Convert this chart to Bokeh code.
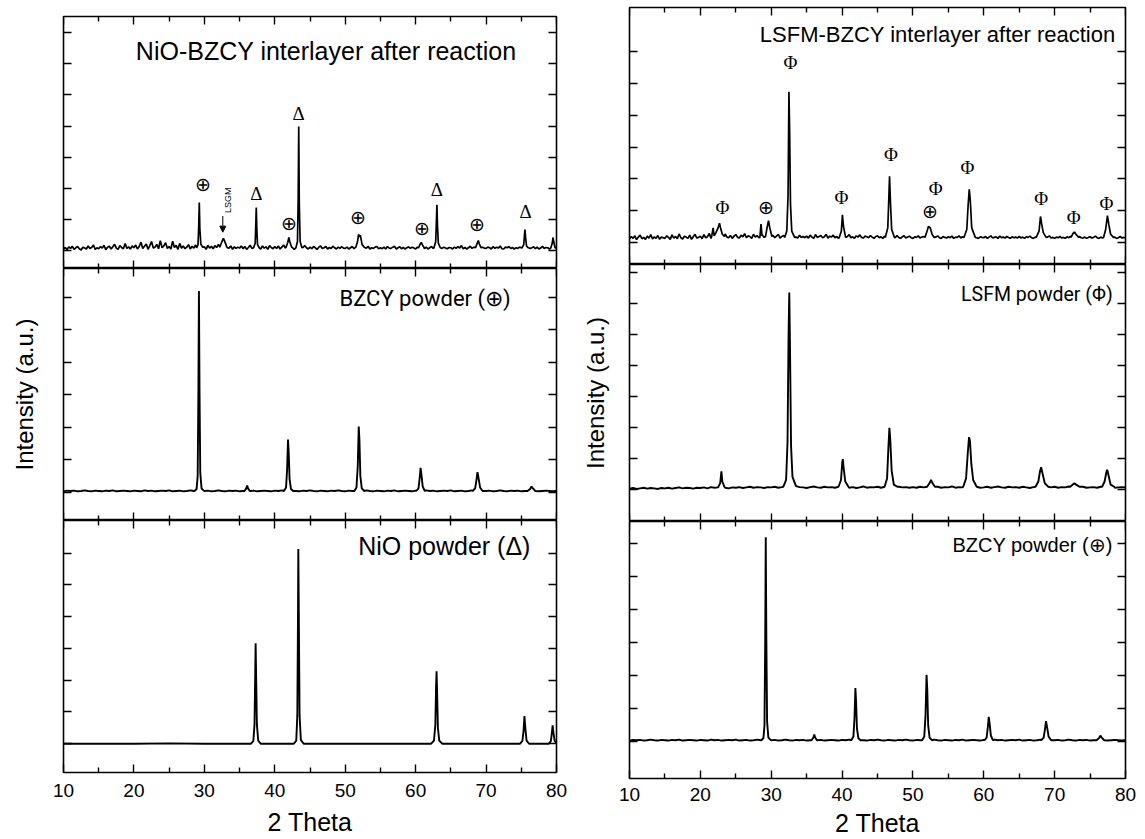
import numpy as np
from bokeh.plotting import figure
from bokeh.models import (Range1d, LinearAxis, FixedTicker, Label, Arrow, NormalHead,
                          CustomJSTickFormatter, ColumnDataSource)
from bokeh.layouts import row, column
from bokeh.embed import file_html
from bokeh.resources import INLINE
from bokeh.core.properties import value

# ---------------- data ----------------
X_MIN, X_MAX = 10, 80
X_MAJOR = [10, 20, 30, 40, 50, 60, 70, 80]
X_MINOR = [15, 25, 35, 45, 55, 65, 75]

# baseline noise (hundredths of a tick step), evenly spaced from 10 to 80 deg
noise_L1 = [6,11,4,13,8,15,5,10,14,7,3,12,9,6,16,8,11,19,5,10,
            7,14,9,18,4,12,15,6,13,21,9,5,17,11,7,24,8,13,6,16,
            10,19,6,14,28,8,15,22,5,17,30,9,12,21,7,33,10,16,26,8,
            14,6,31,11,18,5,24,9,16,7,12,20,6,15,9,19,8,13,16,10,
            13,5,18,9,15,7,17,11,21,8,14,6,19,10,9,16,5,13,8,12,
            9,16,7,14,5,11,18,8,15,10,20,12,6,16,9,13,5,17,11,7,
            14,8,16,6,12,19,9,15,6,18,11,5,16,9,13,7,11,17,10,6,
            12,7,14,10,5,12,16,8,10,14,6,11,8,15,10,6,12,8,14,9,
            8,12,6,10,14,7,12,10,6,13,8,11,9,15,6,10,8,12,14,7,
            10,7,12,6,14,9,8,12,15,6,10,13,7,11,6,10,13,8,12,9,
            6,12,8,14,9,7,12,6,10,14,8,11,10,6,13,8,12,9,7,11,
            10,6,12,8,14,9,17,7,11,6,10,15,8,12,9,14,7,6,12,9,
            8,12,10,6,14,8,12,9,16,7,6,12,10,14,8,11,6,10,8,12,
            10,7,14,6,12,8,10,13,7,12,6,9,15,8,11,10,6,13,9,12,
            10]
noise_R1 = [10,18,12,20,8,16,22,11,15,9,19,13,24,10,17,12,21,9,16,14,
            12,20,15,9,23,13,18,11,26,14,10,19,16,12,22,9,17,25,13,15,
            19,11,24,14,17,28,12,20,15,31,13,18,22,10,26,16,14,21,12,19,
            24,15,13,22,17,27,14,20,18,12,25,16,21,14,19,23,15,17,13,20,
            16,22,14,19,25,13,18,21,15,12,24,17,14,20,16,13,22,15,18,14,
            19,13,22,16,12,24,15,18,21,14,17,25,13,19,16,22,14,18,12,20,
            15,21,13,18,24,14,17,12,20,16,23,15,13,19,17,14,21,16,12,18,
            20,14,17,12,19,15,22,13,16,18,14,21,15,12,17,20,13,16,19,14,
            12,17,15,20,13,16,18,14,12,19,15,17,13,16,20,14,12,18,15,13,
            17,14,19,12,16,15,20,13,17,14,12,18,15,13,16,19,14,12,17,15,
            14,18,12,16,20,13,15,17,12,19,14,16,13,18,15,12,17,14,16,13,
            18,13,16,12,17,15,19,14,12,16,18,13,15,12,17,14,16,20,13,15,
            12,16,14,18,13,15,12,17,14,19,13,16,15,12,18,14,13,16,12,15,
            17,13,15,19,14,12,16,13,18,14,12,15,17,13,16,12,14,18,13,15,
            14]
noise_BZCY = [3,5,4,5,3,4,6,4,3,5,4,3,5,4,6,3,4,5,4,3,
              5,4,3,6,4,5,3,4,5,4,6,3,4,5,3,4,6,4,5,3,
              4,5,3,4,6,4,3,5,4,5,3,4,6,4,5,3,4,5,4,3,
              5,4,6,3,4,5,4,3,5,4,6,4,3,5,4,3,5,4,6,4,
              3,5,4,5,3,4,6,4,3,5,4,3,5,4,6,3,4,5,4,3,
              5,4,3,6,4,5,3,4,5,4,6,3,4,5,3,4,6,4,5,3,
              4,5,3,4,6,4,3,5,4,5,3,4,6,4,5,3,4,5,4,3,
              4]
noise_LSFM = [2,4,1,3,5,2,4,3,1,4,3,5,2,4,6,3,5,4,2,5,
              4,6,3,7,5,4,8,5,3,6,5,7,4,6,8,5,7,6,4,7,
              6,8,5,7,9,6,8,5,7,6,4,7,9,6,5,8,6,7,5,8,
              6,8,5,7,4,6,9,5,7,6,8,5,6,9,7,5,8,6,7,5,
              7,5,8,6,4,7,6,8,5,7,6,9,5,7,6,4,8,6,7,5,
              6,8,5,7,9,6,5,8,6,7,5,8,6,4,7,9,6,5,7,6,
              8,5,7,6,9,5,7,6,8,5,6,7,5,8,6,7,9,5,6,7,
              6]
noise_NiO = [0,0,0,1,0,0,0,0,0,0,0,0,0,0,0]

# peak outlines (2theta, intensity in tick steps)
peaks_L1 = [
    [(28.9,0.1),(29.1,0.2),(29.2,0.8),(29.28,1.55),(29.36,0.7),(29.5,0.22),(29.75,0.12)],
    [(32.2,0.12),(32.5,0.3),(32.7,0.4),(32.85,0.33),(33.2,0.12)],
    [(37.0,0.1),(37.22,0.25),(37.3,0.8),(37.37,1.39),(37.45,0.7),(37.55,0.2),(37.8,0.1)],
    [(41.6,0.12),(41.85,0.28),(42.0,0.43),(42.12,0.3),(42.4,0.12)],
    [(43.0,0.1),(43.22,0.3),(43.32,1.6),(43.4,3.99),(43.48,1.5),(43.6,0.3),(43.85,0.1)],
    [(51.5,0.12),(51.75,0.3),(51.9,0.53),(52.0,0.45),(52.15,0.5),(52.4,0.2),(52.7,0.12)],
    [(60.4,0.1),(60.65,0.22),(60.8,0.27),(60.95,0.2),(61.2,0.1)],
    [(62.6,0.1),(62.85,0.3),(62.94,0.9),(63.02,1.48),(63.1,0.8),(63.22,0.25),(63.5,0.1)],
    [(68.5,0.1),(68.75,0.25),(68.9,0.33),(69.05,0.22),(69.3,0.1)],
    [(75.1,0.1),(75.35,0.2),(75.45,0.5),(75.52,0.68),(75.6,0.45),(75.75,0.15),(76.0,0.1)],
    [(79.2,0.1),(79.4,0.25),(79.5,0.43),(79.6,0.3),(79.8,0.1)],
]
peaks_BZCY = [
    [(28.6,0.04),(28.9,0.1),(29.05,0.5),(29.15,3.0),(29.23,6.19),(29.31,3.2),(29.42,0.6),(29.6,0.12),(29.9,0.05)],
    [(35.7,0.04),(35.95,0.12),(36.08,0.21),(36.2,0.12),(36.45,0.04)],
    [(41.3,0.04),(41.6,0.15),(41.75,0.7),(41.88,1.62),(41.98,1.2),(42.1,0.4),(42.3,0.1),(42.6,0.04)],
    [(51.3,0.04),(51.6,0.15),(51.78,0.8),(51.92,2.02),(52.02,1.6),(52.15,0.5),(52.35,0.12),(52.7,0.04)],
    [(60.1,0.04),(60.4,0.12),(60.58,0.45),(60.7,0.75),(60.82,0.55),(61.0,0.18),(61.3,0.04)],
    [(68.1,0.04),(68.45,0.12),(68.65,0.4),(68.78,0.62),(68.92,0.45),(69.15,0.15),(69.5,0.04)],
    [(75.9,0.04),(76.25,0.1),(76.45,0.18),(76.65,0.12),(77.0,0.04)],
]
peaks_NiO = [
    [(36.6,0),(36.95,0.08),(37.12,0.6),(37.22,2.2),(37.28,3.16),(37.36,2.0),(37.46,0.6),(37.65,0.1),(38.0,0)],
    [(42.7,0),(43.05,0.1),(43.2,0.9),(43.28,3.5),(43.34,6.13),(43.42,3.8),(43.52,0.9),(43.7,0.12),(44.1,0)],
    [(62.2,0),(62.6,0.1),(62.8,0.6),(62.9,1.8),(62.97,2.28),(63.05,1.6),(63.16,0.5),(63.35,0.1),(63.8,0)],
    [(74.8,0),(75.15,0.08),(75.32,0.4),(75.45,0.87),(75.57,0.5),(75.75,0.1),(76.1,0)],
    [(78.9,0),(79.2,0.08),(79.35,0.35),(79.45,0.58),(79.56,0.35),(79.75,0.08),(80.0,0.02)],
]
peaks_R1 = [
    [(21.6,0.18),(21.8,0.45),(21.95,0.2),(22.2,0.3),(22.5,0.45),(22.7,0.6),(22.85,0.45),(23.1,0.25),(23.4,0.18)],
    [(28.4,0.15),(28.56,0.57),(28.7,0.2)],
    [(29.2,0.18),(29.45,0.5),(29.62,0.68),(29.8,0.45),(30.1,0.18)],
    [(31.9,0.15),(32.2,0.35),(32.38,1.5),(32.5,4.74),(32.6,3.5),(32.72,1.2),(32.9,0.35),(33.3,0.15)],
    [(39.6,0.15),(39.9,0.35),(40.05,0.86),(40.2,0.5),(40.5,0.15)],
    [(46.1,0.15),(46.45,0.45),(46.6,1.4),(46.7,2.08),(46.82,1.3),(47.0,0.4),(47.4,0.15)],
    [(51.7,0.15),(52.0,0.35),(52.2,0.5),(52.45,0.45),(52.7,0.25),(53.0,0.15)],
    [(57.2,0.15),(57.6,0.4),(57.8,1.2),(57.95,1.67),(58.1,1.3),(58.3,0.45),(58.8,0.15)],
    [(67.4,0.15),(67.8,0.35),(68.0,0.81),(68.15,0.6),(68.4,0.3),(68.8,0.15)],
    [(72.3,0.15),(72.6,0.28),(72.8,0.32),(73.0,0.25),(73.4,0.15)],
    [(76.9,0.15),(77.2,0.4),(77.45,0.84),(77.65,0.55),(77.9,0.25),(78.3,0.15)],
]
peaks_LSFM = [
    [(22.5,0.06),(22.8,0.2),(22.97,0.58),(23.1,0.25),(23.4,0.08)],
    [(31.7,0.08),(32.1,0.3),(32.3,1.5),(32.45,5.0),(32.55,6.35),(32.65,4.6),(32.8,1.4),(33.0,0.4),(33.5,0.1)],
    [(39.5,0.08),(39.85,0.3),(40.02,0.85),(40.1,0.97),(40.22,0.7),(40.45,0.25),(40.9,0.08)],
    [(46.0,0.08),(46.35,0.35),(46.55,1.4),(46.68,1.98),(46.8,1.6),(47.0,0.6),(47.3,0.15),(47.8,0.08)],
    [(52.0,0.08),(52.35,0.2),(52.56,0.3),(52.75,0.2),(53.1,0.08)],
    [(57.1,0.08),(57.5,0.35),(57.75,1.2),(57.92,1.68),(58.05,1.55),(58.25,0.8),(58.5,0.3),(59.0,0.08)],
    [(67.3,0.08),(67.7,0.25),(67.95,0.6),(68.1,0.71),(68.3,0.5),(68.6,0.2),(69.1,0.08)],
    [(72.2,0.08),(72.6,0.16),(72.8,0.19),(73.1,0.14),(73.5,0.08)],
    [(76.7,0.08),(77.05,0.25),(77.3,0.55),(77.42,0.63),(77.6,0.45),(77.9,0.15),(78.4,0.08)],
]

# phase markers (symbol, 2theta, height in tick steps)
marks_L1_sym = ["⊕", "Δ", "⊕", "Δ", "⊕", "⊕", "Δ", "⊕", "Δ"]
marks_L1_x = [29.8, 37.4, 42.06, 43.4, 51.8, 60.9, 63.0, 68.66, 75.6]
marks_L1_y = [2.12, 1.83, 0.88, 4.41, 1.07, 0.71, 1.97, 0.85, 1.26]
marks_R1_sym = ["Φ", "⊕", "Φ", "Φ", "Φ", "Φ", "⊕", "Φ", "Φ", "Φ", "Φ"]
marks_R1_x = [23.1, 29.33, 32.7, 39.9, 46.9, 53.2, 52.46, 57.7, 68.1, 72.7, 77.3]
marks_R1_y = [1.09, 1.09, 5.65, 1.4, 2.77, 1.69, 0.98, 2.35, 1.39, 0.79, 1.23]

titles = ["NiO-BZCY interlayer after reaction", "BZCY powder (⊕)", "NiO powder (Δ)",
          "LSFM-BZCY interlayer after reaction", "LSFM powder (Φ)", "BZCY powder (⊕)"]
x_label = "2 Theta"
y_label = "Intensity (a.u.)"


def build_trace(noise, peaks):
    bx = np.linspace(X_MIN, X_MAX, len(noise))
    by = np.array(noise, dtype=float) / 100.0
    keep = np.ones(len(bx), dtype=bool)
    for pk in peaks:
        lo = min(q[0] for q in pk); hi = max(q[0] for q in pk)
        keep &= ~((bx >= lo) & (bx <= hi))
    xs = list(bx[keep]); ys = list(by[keep])
    for pk in peaks:
        xs += [q[0] for q in pk]; ys += [q[1] for q in pk]
    order = np.argsort(xs, kind="stable")
    return np.array(xs)[order], np.array(ys)[order]


def style_axis(ax):
    ax.axis_line_color = None
    ax.major_tick_in = 8
    ax.major_tick_out = 0
    ax.minor_tick_in = 5
    ax.minor_tick_out = 0
    ax.major_tick_line_width = 1.4
    ax.minor_tick_line_width = 1.4
    ax.major_tick_line_color = "black"
    ax.minor_tick_line_color = "black"


def style_label(ax, text, standoff, size):
    ax.axis_label = text
    ax.axis_label_text_font = "Liberation Sans"
    ax.axis_label_text_font_size = size
    ax.axis_label_text_font_style = "normal"
    ax.axis_label_text_color = "black"
    ax.axis_label_standoff = standoff


def panel(w, h, bl, br, bt, bb, yr, yticks, xlab=None, ylab=None):
    p = figure(width=w, height=h, x_range=Range1d(X_MIN, X_MAX), y_range=Range1d(*yr),
               output_backend="svg", toolbar_location=None,
               x_axis_location=None, y_axis_location=None,
               min_border_left=bl, min_border_right=br, min_border_top=bt, min_border_bottom=bb)
    p.grid.visible = False
    p.outline_line_color = "black"
    p.outline_line_width = 1.6
    p.outline_line_alpha = 1.0
    p.background_fill_color = "white"
    p.border_fill_color = "white"
    top = LinearAxis(ticker=FixedTicker(ticks=X_MAJOR, minor_ticks=X_MINOR),
                     formatter=CustomJSTickFormatter(code="return ''"), fixed_location=yr[1])
    style_axis(top)
    p.add_layout(top, "above")
    if xlab is not None:
        bot = LinearAxis(ticker=FixedTicker(ticks=X_MAJOR, minor_ticks=X_MINOR))
        bot.major_label_text_font = "Liberation Sans"
        bot.major_label_text_font_size = "19px"
        bot.major_label_text_color = "black"
        bot.major_label_standoff = xlab[0]
        style_label(bot, x_label, xlab[1], "25px")
    else:
        bot = LinearAxis(ticker=FixedTicker(ticks=X_MAJOR, minor_ticks=X_MINOR),
                         formatter=CustomJSTickFormatter(code="return ''"), fixed_location=yr[0])
    style_axis(bot)
    p.add_layout(bot, "below")
    for side in ("left", "right"):
        ax = LinearAxis(ticker=FixedTicker(ticks=yticks, minor_ticks=[]),
                        formatter=CustomJSTickFormatter(code="return ''"))
        style_axis(ax)
        if side == "left" and ylab is not None:
            style_label(ax, y_label, ylab, "24px")
        p.add_layout(ax, side)
    return p


def add_title(p, text, x, y, align, size, font):
    p.add_layout(Label(x=x, y=y, text=text, text_align=align, text_baseline="middle",
                       text_font=font, text_font_size=size, text_color="black"))


def add_marks(p, syms, xs, ys, size):
    src = ColumnDataSource(dict(x=xs, y=ys, t=syms))
    p.text("x", "y", text="t", source=src, text_align="center", text_baseline="middle",
           text_font=value("Liberation Serif"), text_font_size=size, text_color="black")


# ---------------- panels ----------------
LW, RW = 575, 570
yr_L1, yr_L2, yr_L3 = (-0.564, 7.513), (-0.868, 6.886), (-0.906, 7.03)
yr_R1, yr_R2, yr_R3 = (-0.704, 7.4), (-1.04, 7.25), (-1.12, 6.67)

L1 = panel(LW, 268, 63, 19, 16, 0, yr_L1, [0, 1, 2, 3, 4, 5, 6, 7])
L2 = panel(LW, 252, 63, 19, 0, 0, yr_L2, [0, 1, 2, 3, 4, 5, 6], ylab=26)
L3 = panel(LW, 319, 63, 19, 0, 67, yr_L3, [0, 1, 2, 3, 4, 5, 6], xlab=(11, 8))
R1 = panel(RW, 264, 54, 20, 7, 0, yr_R1, [0, 1, 2, 3, 4, 5, 6])
R2 = panel(RW, 257, 54, 20, 0, 0, yr_R2, [0, 1, 2, 3, 4, 5, 6, 7], ylab=21)
R3 = panel(RW, 318, 54, 20, 0, 61, yr_R3, [0, 1, 2, 3, 4, 5, 6], xlab=(9, 5))

for p, nz, pk, lw in [(L1, noise_L1, peaks_L1, 1.7), (L2, noise_BZCY, peaks_BZCY, 1.9),
                      (L3, noise_NiO, peaks_NiO, 1.9), (R1, noise_R1, peaks_R1, 1.7),
                      (R2, noise_LSFM, peaks_LSFM, 1.9), (R3, noise_BZCY, peaks_BZCY, 1.9)]:
    tx, ty = build_trace(nz, pk)
    p.line(tx, ty, line_color="black", line_width=lw)

add_marks(L1, marks_L1_sym, marks_L1_x, marks_L1_y, "19px")
add_marks(R1, marks_R1_sym, marks_R1_x, marks_R1_y, "19px")

add_title(L1, titles[0], 47.3, 6.4, "center", "25px", "Liberation Sans")
add_title(L2, titles[1], 73.5, 5.96, "right", "22px", "Roboto")
add_title(L3, titles[2], 76.3, 6.22, "right", "25px", "Liberation Sans")
add_title(R1, titles[3], 53.5, 6.56, "center", "22px", "Liberation Sans")
add_title(R2, titles[4], 78.2, 6.28, "right", "19.5px", "Roboto")
add_title(R3, titles[5], 78.2, 5.95, "right", "20px", "Liberation Sans")

# LSGM arrow + label in the top-left panel
L1.add_layout(Arrow(end=NormalHead(size=6, fill_color="black", line_color="black"),
                    x_start=32.62, y_start=1.12, x_end=32.62, y_end=0.6,
                    line_color="black", line_width=1))
L1.add_layout(Label(x=33.4, y=1.62, text="LSGM", angle=np.pi / 2, text_align="center",
                    text_baseline="middle", text_font="Liberation Sans", text_font_size="9px",
                    text_color="black"))

layout = row(column(L1, L2, L3), column(R1, R2, R3))
open("out.html", "w").write(file_html(layout, INLINE))
